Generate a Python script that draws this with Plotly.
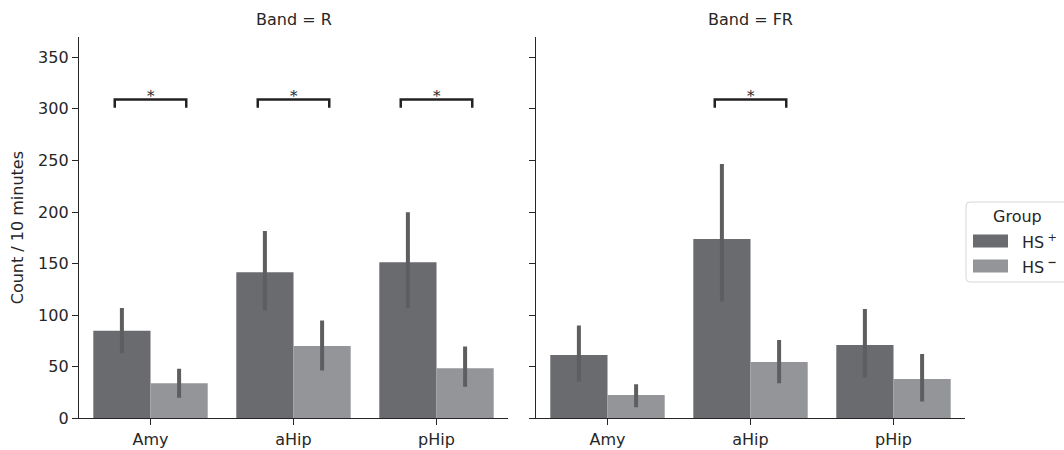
import plotly.graph_objects as go

# ---------------- data ----------------
regions = ["Amy", "aHip", "pHip"]
bands = ["R", "FR"]
groups = ["HS\u2009<sup>+</sup>", "HS\u2009<sup><b>−</b></sup>"]

# mean counts per 10 minutes
r_hs_pos = [84.8, 141.6, 151.3]
r_hs_neg = [34.0, 70.2, 48.5]
fr_hs_pos = [61.4, 173.9, 71.1]
fr_hs_neg = [22.6, 54.6, 38.1]

# confidence interval upper / lower bounds
r_hs_pos_hi = [107.0, 181.7, 199.7]
r_hs_pos_lo = [63.0, 104.4, 106.6]
r_hs_neg_hi = [48.0, 94.8, 69.5]
r_hs_neg_lo = [20.0, 46.3, 30.7]
fr_hs_pos_hi = [89.9, 246.6, 106.0]
fr_hs_pos_lo = [35.5, 113.2, 39.5]
fr_hs_neg_hi = [33.0, 76.0, 62.4]
fr_hs_neg_lo = [10.7, 34.0, 16.2]

# significance markers: (band, region index)
sig_pairs = [("R", 0), ("R", 1), ("R", 2), ("FR", 1)]
sig_level = 309
sig_drop = 8

y_ticks = [0, 50, 100, 150, 200, 250, 300, 350]

# ---------------- style ----------------
col_pos = "#6a6b6f"
col_neg = "#949598"
col_err = "#5e5e60"
col_txt = "#262626"
FONT = "DejaVu Sans"
FS = 16

W, H = 1064, 450
dom_left = [79 / W, 508 / W]
dom_right = [536 / W, 965 / W]
y_bot, y_top = 418.3, 37.0
px_per_unit = (418.3 - 57.3) / 350
y_max = (y_bot - y_top) / px_per_unit
ydom = [1 - y_bot / H, 1 - y_top / H]

fig = go.Figure()

series = {
    "R": [(r_hs_pos, r_hs_pos_hi, r_hs_pos_lo, col_pos), (r_hs_neg, r_hs_neg_hi, r_hs_neg_lo, col_neg)],
    "FR": [(fr_hs_pos, fr_hs_pos_hi, fr_hs_pos_lo, col_pos), (fr_hs_neg, fr_hs_neg_hi, fr_hs_neg_lo, col_neg)],
}
axis_map = {"R": ("x", "y"), "FR": ("x2", "y2")}
xpos = list(range(len(regions)))

for band in bands:
    xa, ya = axis_map[band]
    for gi, (vals, hi, lo, col) in enumerate(series[band]):
        fig.add_trace(go.Bar(
            x=xpos, y=vals, name=groups[gi], xaxis=xa, yaxis=ya,
            marker=dict(color=col, line=dict(width=0)),
            offsetgroup=str(gi),
            error_y=dict(type="data", symmetric=False,
                         array=[h - v for h, v in zip(hi, vals)],
                         arrayminus=[v - l for v, l in zip(vals, lo)],
                         color=col_err, thickness=4, width=0),
            showlegend=False,
        ))

# significance brackets
shapes = []
annotations = []
for band, ri in sig_pairs:
    xa, ya = axis_map[band]
    xs = [ri - 0.25, ri - 0.25, ri + 0.25, ri + 0.25]
    ys = [sig_level - sig_drop, sig_level, sig_level, sig_level - sig_drop]
    fig.add_trace(go.Scatter(x=xs, y=ys, mode="lines", xaxis=xa, yaxis=ya,
                             line=dict(color="#222222", width=2.5),
                             showlegend=False, hoverinfo="skip"))
    annotations.append(dict(x=ri, y=sig_level, xref=xa, yref=ya, text="*",
                            showarrow=False, yanchor="bottom", yshift=-7,
                            font=dict(family="DejaVu Serif", size=15, color=col_txt)))

# facet titles
for band, dom in zip(bands, [dom_left, dom_right]):
    annotations.append(dict(x=(dom[0] + dom[1]) / 2, y=1 - 19 / H, xref="paper", yref="paper",
                            text=f"Band = {band}", showarrow=False,
                            xanchor="center", yanchor="middle",
                            font=dict(family=FONT, size=FS, color=col_txt)))

# custom legend (wide swatches like the reference)
def px_x(v):
    return v / W

def px_y(v):
    return 1 - v / H

bx0, bx1, by0, by1, rad = 966, 1072, 202, 282, 4
path = (f"M {px_x(bx0 + rad)},{px_y(by0)} L {px_x(bx1)},{px_y(by0)} "
        f"L {px_x(bx1)},{px_y(by1)} L {px_x(bx0 + rad)},{px_y(by1)} "
        f"Q {px_x(bx0)},{px_y(by1)} {px_x(bx0)},{px_y(by1 - rad)} "
        f"L {px_x(bx0)},{px_y(by0 + rad)} Q {px_x(bx0)},{px_y(by0)} {px_x(bx0 + rad)},{px_y(by0)} Z")
shapes.append(dict(type="path", xref="paper", yref="paper", path=path,
                   line=dict(color="#d6d6d6", width=1), fillcolor="white", layer="above"))
annotations.append(dict(x=px_x(1017), y=px_y(216), xref="paper", yref="paper", text="Group",
                        showarrow=False, xanchor="center", yanchor="middle",
                        font=dict(family=FONT, size=FS, color=col_txt)))
for gi, (col, yc) in enumerate([(col_pos, 241), (col_neg, 266)]):
    shapes.append(dict(type="rect", xref="paper", yref="paper",
                       x0=px_x(973), x1=px_x(1008), y0=px_y(yc + 6.5), y1=px_y(yc - 6.5),
                       line=dict(width=0), fillcolor=col, layer="above"))
    annotations.append(dict(x=px_x(1020), y=px_y(yc), xref="paper", yref="paper",
                            text=groups[gi], showarrow=False, xanchor="left", yanchor="middle",
                            font=dict(family=FONT, size=FS, color=col_txt)))

axis_common = dict(showline=True, linecolor=col_txt, linewidth=1.3, ticks="outside",
                   ticklen=6, tickwidth=1.3, tickcolor=col_txt, showgrid=False, zeroline=False,
                   automargin=False,
                   tickfont=dict(family=FONT, size=FS, color=col_txt))

fig.update_layout(
    width=W, height=H, margin=dict(l=0, r=0, t=0, b=0),
    paper_bgcolor="white", plot_bgcolor="white",
    barmode="group", bargap=0.2, bargroupgap=0,
    font=dict(family=FONT, size=FS, color=col_txt),
    xaxis=dict(domain=dom_left, anchor="y", range=[-0.5, 2.5], tickvals=xpos, ticktext=regions,
               **axis_common),
    xaxis2=dict(domain=dom_right, anchor="y2", range=[-0.5, 2.5], tickvals=xpos, ticktext=regions,
                **axis_common),
    yaxis=dict(domain=ydom, anchor="x", range=[0, y_max], tickvals=y_ticks,
               title=dict(text="Count / 10 minutes", font=dict(family=FONT, size=FS, color=col_txt), standoff=10),
               **axis_common),
    yaxis2=dict(domain=ydom, anchor="x2", range=[0, y_max], tickvals=y_ticks, showticklabels=False,
                **axis_common),
    shapes=shapes, annotations=annotations,
)

fig.write_html("out.html", config={"displayModeBar": False},
               post_script="document.body.style.margin='0px';document.body.style.overflow='hidden';")
